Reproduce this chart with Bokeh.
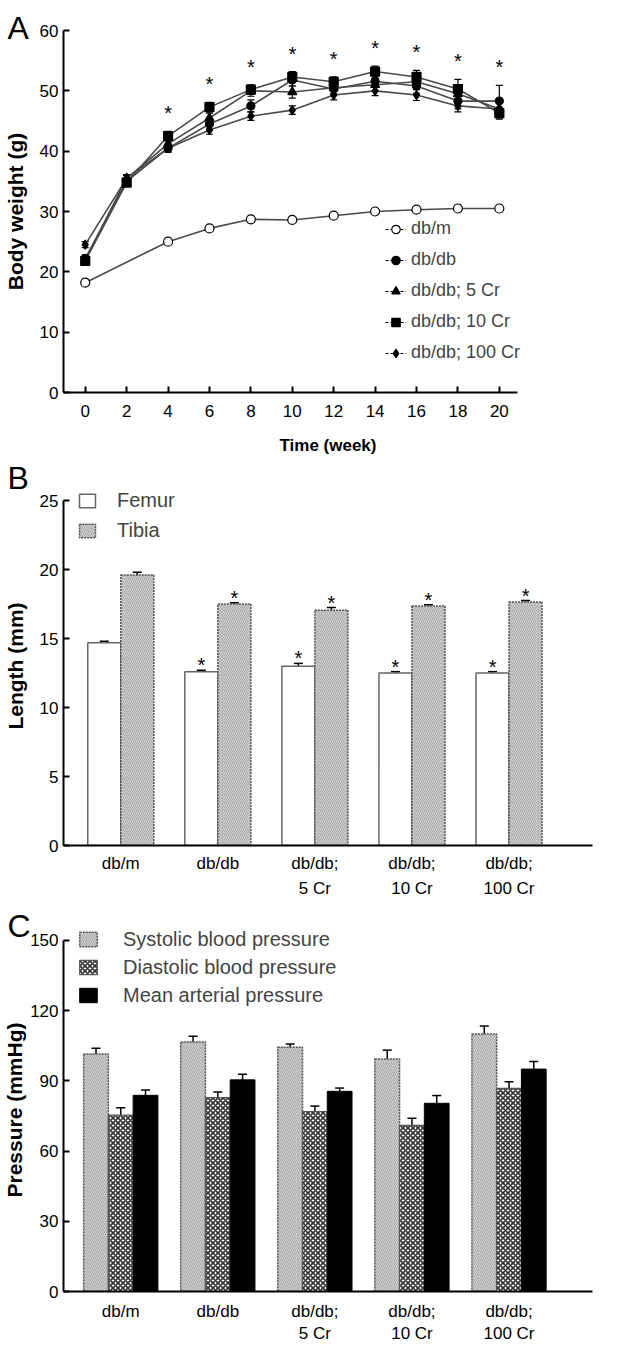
from bokeh.plotting import figure
from bokeh.layouts import column
from bokeh.models import (ColumnDataSource, Legend, LegendItem, Title, Whisker, TeeHead,
                          FixedTicker, Range1d)
from bokeh.embed import file_html
from bokeh.resources import INLINE
from bokeh.core.properties import value

FONT = "Liberation Sans"

# ---------------- Panel A data: body weight (g) ----------------
weeks = [0, 2, 4, 6, 8, 10, 12, 14, 16, 18, 20]
weeks_dbm = [0, 4, 6, 8, 10, 12, 14, 16, 18, 20]
bw_dbm = [18.2, 25.0, 27.2, 28.7, 28.6, 29.3, 30.0, 30.3, 30.5, 30.5]
err_dbm = [0.4, 0.4, 0.4, 0.5, 0.5, 0.5, 0.5, 0.5, 0.5, 0.5]
bw_dbdb = [22.2, 35.0, 40.5, 44.5, 47.5, 51.8, 50.3, 51.6, 50.8, 48.3, 48.3]
err_dbdb = [0.6, 0.6, 0.7, 0.8, 1.0, 1.0, 1.0, 1.0, 1.2, 1.3, 2.6]
bw_5cr = [22.0, 35.5, 41.2, 45.5, 50.0, 49.8, 50.5, 51.0, 51.5, 49.5, 47.0]
err_5cr = [0.5, 0.6, 0.7, 0.8, 0.9, 1.0, 1.0, 1.0, 1.1, 1.2, 1.5]
bw_10cr = [21.8, 34.8, 42.5, 47.3, 50.2, 52.3, 51.5, 53.2, 52.3, 50.3, 46.3]
err_10cr = [0.5, 0.6, 0.8, 0.8, 0.8, 0.9, 0.8, 0.9, 1.1, 1.6, 1.0]
bw_100cr = [24.5, 35.5, 40.5, 43.5, 45.8, 46.8, 49.3, 50.0, 49.3, 47.5, 47.0]
err_100cr = [0.5, 0.5, 0.6, 0.7, 0.7, 0.7, 0.8, 0.8, 0.9, 1.0, 1.2]
series_names = ["db/m", "db/db", "db/db; 5 Cr", "db/db; 10 Cr", "db/db; 100 Cr"]
star_weeks = [4, 6, 8, 10, 12, 14, 16, 18, 20]

# ---------------- Panel B data: bone length (mm) ----------------
groups = ["db/m", "db/db", "db/db;\n5 Cr", "db/db;\n10 Cr", "db/db;\n100 Cr"]
femur = [14.7, 12.6, 13.0, 12.5, 12.5]
femur_err = [0.1, 0.1, 0.2, 0.1, 0.1]
tibia = [19.6, 17.5, 17.05, 17.35, 17.65]
tibia_err = [0.2, 0.1, 0.2, 0.1, 0.1]
femur_sig = [False, True, True, True, True]
tibia_sig = [False, True, True, True, True]

# ---------------- Panel C data: blood pressure (mmHg) ----------------
systolic = [101.5, 106.6, 104.3, 99.3, 110.0]
systolic_err = [2.4, 2.4, 1.4, 3.8, 3.4]
diastolic = [75.3, 82.8, 76.8, 71.0, 86.8]
diastolic_err = [3.2, 2.4, 2.4, 3.0, 2.8]
mean_ap = [83.8, 90.4, 85.5, 80.4, 95.0]
mean_err = [2.3, 2.4, 1.4, 3.3, 3.2]

TICK_FS = "17px"


def style_axes(p, x_ticks=True):
    for ax in (p.xaxis[0], p.yaxis[0]):
        ax.axis_line_width = 2
        ax.axis_line_color = "black"
        ax.major_tick_line_width = 2
        ax.major_tick_line_color = "black"
        ax.major_tick_in = 6
        ax.major_tick_out = 0
        ax.minor_tick_line_color = None
        ax.major_label_text_font = FONT
        ax.major_label_text_font_size = TICK_FS
        ax.major_label_text_color = "black"
        ax.axis_label_text_font = FONT
        ax.axis_label_text_font_style = "bold"
        ax.axis_label_text_color = "black"
    p.xaxis[0].axis_label_text_font_size = "17px"
    p.yaxis[0].axis_label_text_font_size = "21px"
    p.yaxis[0].major_label_standoff = 5
    p.yaxis[0].axis_label_standoff = 1
    if not x_ticks:
        p.xaxis[0].major_tick_line_color = None
    p.xgrid.visible = False
    p.ygrid.visible = False
    p.outline_line_color = None
    p.background_fill_color = "white"
    p.border_fill_color = "white"


def panel_letter(p, letter, standoff):
    p.add_layout(Title(text=letter, align="left", offset=-56, standoff=standoff,
                       text_font=FONT, text_font_size="32px", text_font_style="normal",
                       text_color="black"), "above")


# ======================= Panel A =======================
pa = figure(width=626, height=460, x_range=Range1d(-1.05, 24.5), y_range=Range1d(0, 60),
            output_backend="svg", toolbar_location=None,
            min_border_left=60, min_border_right=34, min_border_top=30, min_border_bottom=68)
style_axes(pa)
pa.xaxis.bounds = (-1.05, 20.9)
pa.xaxis.ticker = FixedTicker(ticks=weeks)
pa.yaxis.ticker = FixedTicker(ticks=[0, 10, 20, 30, 40, 50, 60])
pa.xaxis.axis_label = "Time (week)"
pa.yaxis.axis_label = "Body weight (g)"
pa.xaxis.major_label_standoff = 12
pa.xaxis.axis_label_standoff = 16
pa.yaxis.axis_label_standoff = 10

all_series = [
    (weeks_dbm, bw_dbm, err_dbm, "circle", "white", 9),
    (weeks, bw_dbdb, err_dbdb, "circle", "black", 8),
    (weeks, bw_5cr, err_5cr, "triangle", "black", 9),
    (weeks, bw_10cr, err_10cr, "square", "black", 9),
    (weeks, bw_100cr, err_100cr, "diamond", "black", 9),
]
for xs, ys, es, mk, fc, sz in all_series:
    pa.line(xs, ys, line_color="#4a4a4a", line_width=1.6)
for xs, ys, es, mk, fc, sz in all_series:
    src = ColumnDataSource(dict(x=xs, lo=[y - e for y, e in zip(ys, es)],
                                hi=[y + e for y, e in zip(ys, es)]))
    pa.add_layout(Whisker(source=src, base="x", lower="lo", upper="hi", line_color="black",
                          line_width=1.2, upper_head=TeeHead(size=7, line_width=1.2),
                          lower_head=TeeHead(size=7, line_width=1.2)))
for xs, ys, es, mk, fc, sz in all_series:
    pa.scatter(xs, ys, marker=mk, size=sz, fill_color=fc, line_color="black", line_width=1.2)

# significance stars above the highest mean+SEM at each week
star_y = []
for w in star_weeks:
    tops = []
    for xs, ys, es, mk, fc, sz in all_series:
        if w in xs:
            i = xs.index(w)
            tops.append(ys[i] + es[i])
    star_y.append(max(tops))
pa.text(star_weeks, star_y, text=["*"] * len(star_weeks), text_font=value(FONT),
        text_font_size="20px", text_align="center", text_baseline="alphabetic",
        y_offset=-18, text_color="black")

# legend with dashed-line samples
nan = float("nan")
items = []
for (xs, ys, es, mk, fc, sz), name in zip(all_series, series_names):
    r1 = pa.line([nan], [nan], line_color="black", line_width=1.2, line_dash="3 2")
    r2 = pa.scatter([nan], [nan], marker=mk, size=sz, fill_color=fc, line_color="black",
                    line_width=1.2)
    items.append(LegendItem(label=name, renderers=[r1, r2]))
leg_a = Legend(items=items, location=(322, 24), glyph_width=21, glyph_height=22,
               label_height=31, spacing=0, padding=0, margin=0, label_standoff=5,
               label_text_font=FONT, label_text_font_size="18px",
               background_fill_alpha=0, border_line_color=None)
pa.add_layout(leg_a)
panel_letter(pa, "A", -30)

# ======================= Panel B =======================
xg = [0, 1, 2, 3, 4]
pb = figure(width=626, height=445, x_range=Range1d(-0.59, 4.86), y_range=Range1d(0, 26.02),
            output_backend="svg", toolbar_location=None,
            min_border_left=60, min_border_right=34, min_border_top=26, min_border_bottom=60)
style_axes(pb, x_ticks=False)
pb.yaxis.bounds = (0, 25)
pb.xaxis.ticker = FixedTicker(ticks=xg)
pb.xaxis.major_label_overrides = {i: g for i, g in zip(xg, groups)}
pb.xaxis.major_label_text_line_height = 1.35
pb.yaxis.ticker = FixedTicker(ticks=[0, 5, 10, 15, 20, 25])
pb.yaxis.axis_label = "Length (mm)"
pb.xaxis.major_label_standoff = 8
pb.yaxis.axis_label_standoff = 10

bw = 0.34
xf = [x - bw / 2 for x in xg]
xt = [x + bw / 2 for x in xg]
rf = pb.vbar(x=xf, top=femur, width=bw, fill_color="white", line_color="#666666", line_width=1.5)
rt = pb.vbar(x=xt, top=tibia, width=bw, fill_color="#cdcdcd", line_color="#555555",
             line_width=1.5, line_dash="2 1", hatch_pattern="right_diagonal_line",
             hatch_color="#a8a8a8", hatch_scale=4, hatch_weight=0.9)
for xs, tops, errs in ((xf, femur, femur_err), (xt, tibia, tibia_err)):
    src = ColumnDataSource(dict(x=xs, lo=tops, hi=[t + e for t, e in zip(tops, errs)]))
    pb.add_layout(Whisker(source=src, base="x", lower="lo", upper="hi", line_color="black",
                          line_width=1.5, upper_head=TeeHead(size=9, line_width=1.5),
                          lower_head=None))
sx, sy = [], []
for xs, tops, errs, sig in ((xf, femur, femur_err, femur_sig), (xt, tibia, tibia_err, tibia_sig)):
    for x, t, e, s in zip(xs, tops, errs, sig):
        if s:
            sx.append(x)
            sy.append(t + e)
pb.text(sx, sy, text=["*"] * len(sx), text_font=value(FONT), text_font_size="20px",
        text_align="center", text_baseline="alphabetic", y_offset=-5, text_color="black")
leg_b = Legend(items=[LegendItem(label="Femur", renderers=[rf]),
                      LegendItem(label="Tibia", renderers=[rt])],
               location=(14, 300), glyph_width=20, glyph_height=17, label_height=30,
               spacing=0, padding=0, margin=0, label_standoff=20,
               label_text_font=FONT, label_text_font_size="20px",
               background_fill_alpha=0, border_line_color=None)
pb.add_layout(leg_b)
panel_letter(pb, "B", -19)

# ======================= Panel C =======================
pc = figure(width=626, height=441, x_range=Range1d(-0.59, 4.86), y_range=Range1d(0, 155.06),
            output_backend="svg", toolbar_location=None,
            min_border_left=60, min_border_right=34, min_border_top=23, min_border_bottom=51)
style_axes(pc, x_ticks=False)
pc.yaxis.bounds = (0, 150)
pc.xaxis.ticker = FixedTicker(ticks=xg)
pc.xaxis.major_label_overrides = {i: g for i, g in zip(xg, groups)}
pc.xaxis.major_label_text_line_height = 1.2
pc.yaxis.ticker = FixedTicker(ticks=[0, 30, 60, 90, 120, 150])
pc.yaxis.axis_label = "Pressure (mmHg)"
pc.xaxis.major_label_standoff = 10

cw = 0.255
xs_ = [x - cw for x in xg]
xd_ = list(xg)
xm_ = [x + cw for x in xg]
rs = pc.vbar(x=xs_, top=systolic, width=cw, fill_color="#cdcdcd", line_color="#555555",
             line_width=1.5, line_dash="2 1", hatch_pattern="right_diagonal_line",
             hatch_color="#a8a8a8", hatch_scale=4, hatch_weight=0.9)
rd = pc.vbar(x=xd_, top=diastolic, width=cw, fill_color="white", line_color="#555555",
             line_width=1.2, hatch_pattern="diagonal_cross", hatch_color="#333333",
             hatch_scale=5, hatch_weight=1.6)
rm = pc.vbar(x=xm_, top=mean_ap, width=cw, fill_color="black", line_color="black", line_width=1)
for xs, tops, errs in ((xs_, systolic, systolic_err), (xd_, diastolic, diastolic_err),
                       (xm_, mean_ap, mean_err)):
    src = ColumnDataSource(dict(x=xs, lo=tops, hi=[t + e for t, e in zip(tops, errs)]))
    pc.add_layout(Whisker(source=src, base="x", lower="lo", upper="hi", line_color="black",
                          line_width=1.5, upper_head=TeeHead(size=9, line_width=1.5),
                          lower_head=None))
leg_c = Legend(items=[LegendItem(label="Systolic blood pressure", renderers=[rs]),
                      LegendItem(label="Diastolic blood pressure", renderers=[rd]),
                      LegendItem(label="Mean arterial pressure", renderers=[rm])],
               location=(14, 282), glyph_width=22, glyph_height=18, label_height=28,
               spacing=0, padding=0, margin=0, label_standoff=24,
               label_text_font=FONT, label_text_font_size="20px",
               background_fill_alpha=0, border_line_color=None)
pc.add_layout(leg_c)
panel_letter(pc, "C", -31)

layout = column(pa, pb, pc, spacing=0)
open("out.html", "w").write(file_html(layout, INLINE))
